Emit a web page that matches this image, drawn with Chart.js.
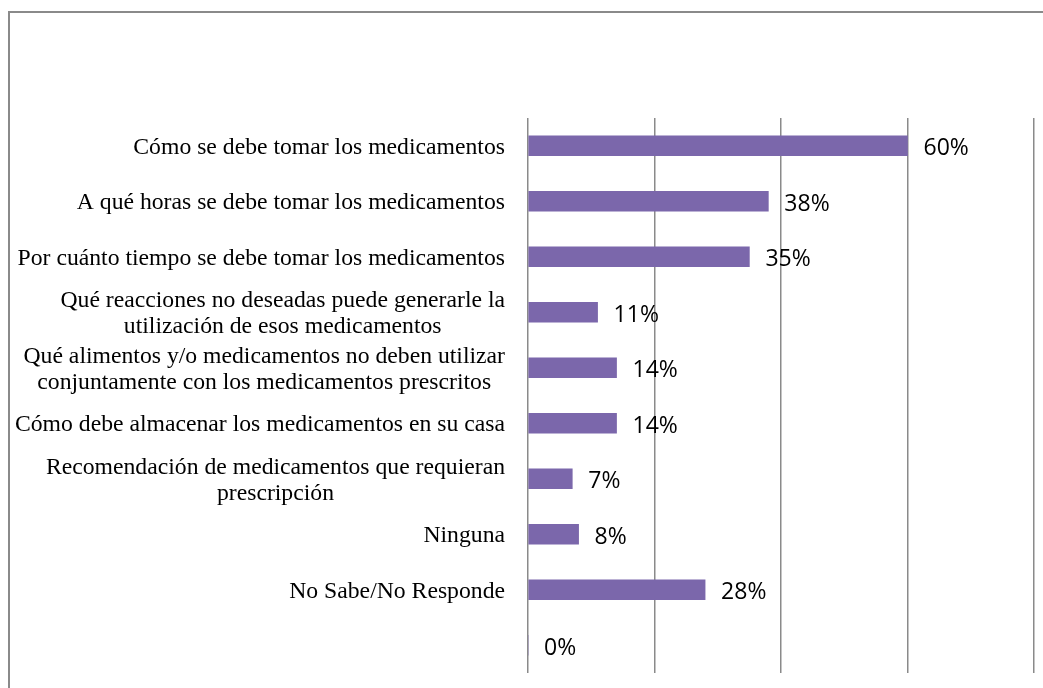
<!DOCTYPE html>
<html lang="es">
<head>
    <meta charset="UTF-8">
    <title>Información sobre medicamentos</title>
    <script src="https://cdn.jsdelivr.net/npm/chart.js"></script>
    <style>
        body { margin: 0; background: #fff; overflow: hidden; }
        .frame { position: absolute; left: 8px; top: 11px; width: 1100px; height: 760px;
                 border-left: 2px solid #8a8a8a; border-top: 2px solid #8a8a8a; }
        #chart { position: absolute; left: 0; top: 0; }
    </style>
</head>
<body>
    <div class="frame"></div>
    <canvas id="chart" width="1043" height="688"></canvas>

    <script>
        // categorías (las de dos líneas como arreglos)
        const categories = [
            'Cómo se debe tomar los medicamentos',
            'A qué horas se debe tomar los medicamentos',
            'Por cuánto tiempo se debe tomar los medicamentos',
            ['Qué reacciones no deseadas puede generarle la', 'utilización de esos medicamentos'],
            ['Qué alimentos y/o medicamentos no deben utilizar', 'conjuntamente con los medicamentos prescritos'],
            'Cómo debe almacenar los medicamentos en su casa',
            ['Recomendación de medicamentos que requieran', 'prescripción'],
            'Ninguna',
            'No Sabe/No Responde',
            ''
        ];
        const values = [60, 38, 35, 11, 14, 14, 7, 8, 28, 0];
        const xTicks = [0, 20, 40, 60, 80];

        const labelsPlugin = {
            id: 'labels',
            afterDraw(chart) {
                const ctx = chart.ctx;
                const yScale = chart.scales.y;
                ctx.save();
                ctx.fillStyle = '#000';
                ctx.textBaseline = 'middle';

                // etiquetas de categoría: bloque alineado a la derecha, líneas centradas
                ctx.font = '23.7px "Liberation Serif"';
                ctx.textAlign = 'center';
                const lineH = 26;
                categories.forEach((cat, i) => {
                    const lines = Array.isArray(cat) ? cat : [cat];
                    const w = Math.max(...lines.map(l => ctx.measureText(l).width));
                    const cx = 505 - w / 2;
                    const cy = yScale.getPixelForValue(i) + 2;
                    lines.forEach((l, j) => {
                        ctx.fillText(l, cx, cy + (j - (lines.length - 1) / 2) * lineH);
                    });
                });

                // valores al final de cada barra
                ctx.font = '23px "Open Sans"';
                ctx.textAlign = 'left';
                chart.getDatasetMeta(0).data.forEach((bar, i) => {
                    ctx.fillText(values[i] + '%', bar.x + 16, bar.y + 3);
                });
                ctx.restore();
            }
        };

        new Chart(document.getElementById('chart'), {
            type: 'bar',
            data: {
                labels: categories,
                datasets: [{
                    data: values,
                    backgroundColor: '#7b67ab',
                    barThickness: 20
                }]
            },
            options: {
                indexAxis: 'y',
                responsive: false,
                animation: false,
                devicePixelRatio: 1,
                layout: { padding: { left: 528, top: 118, right: 9, bottom: 15 } },
                plugins: { legend: { display: false }, tooltip: { enabled: false } },
                scales: {
                    x: {
                        min: xTicks[0],
                        max: xTicks[xTicks.length - 1],
                        afterBuildTicks: scale => { scale.ticks = xTicks.map(v => ({ value: v })); },
                        ticks: { display: false },
                        grid: { color: '#8a8a8a', lineWidth: 1.5, drawTicks: false },
                        border: { display: false }
                    },
                    y: { display: false }
                }
            },
            plugins: [labelsPlugin]
        });
    </script>
</body>
</html>
